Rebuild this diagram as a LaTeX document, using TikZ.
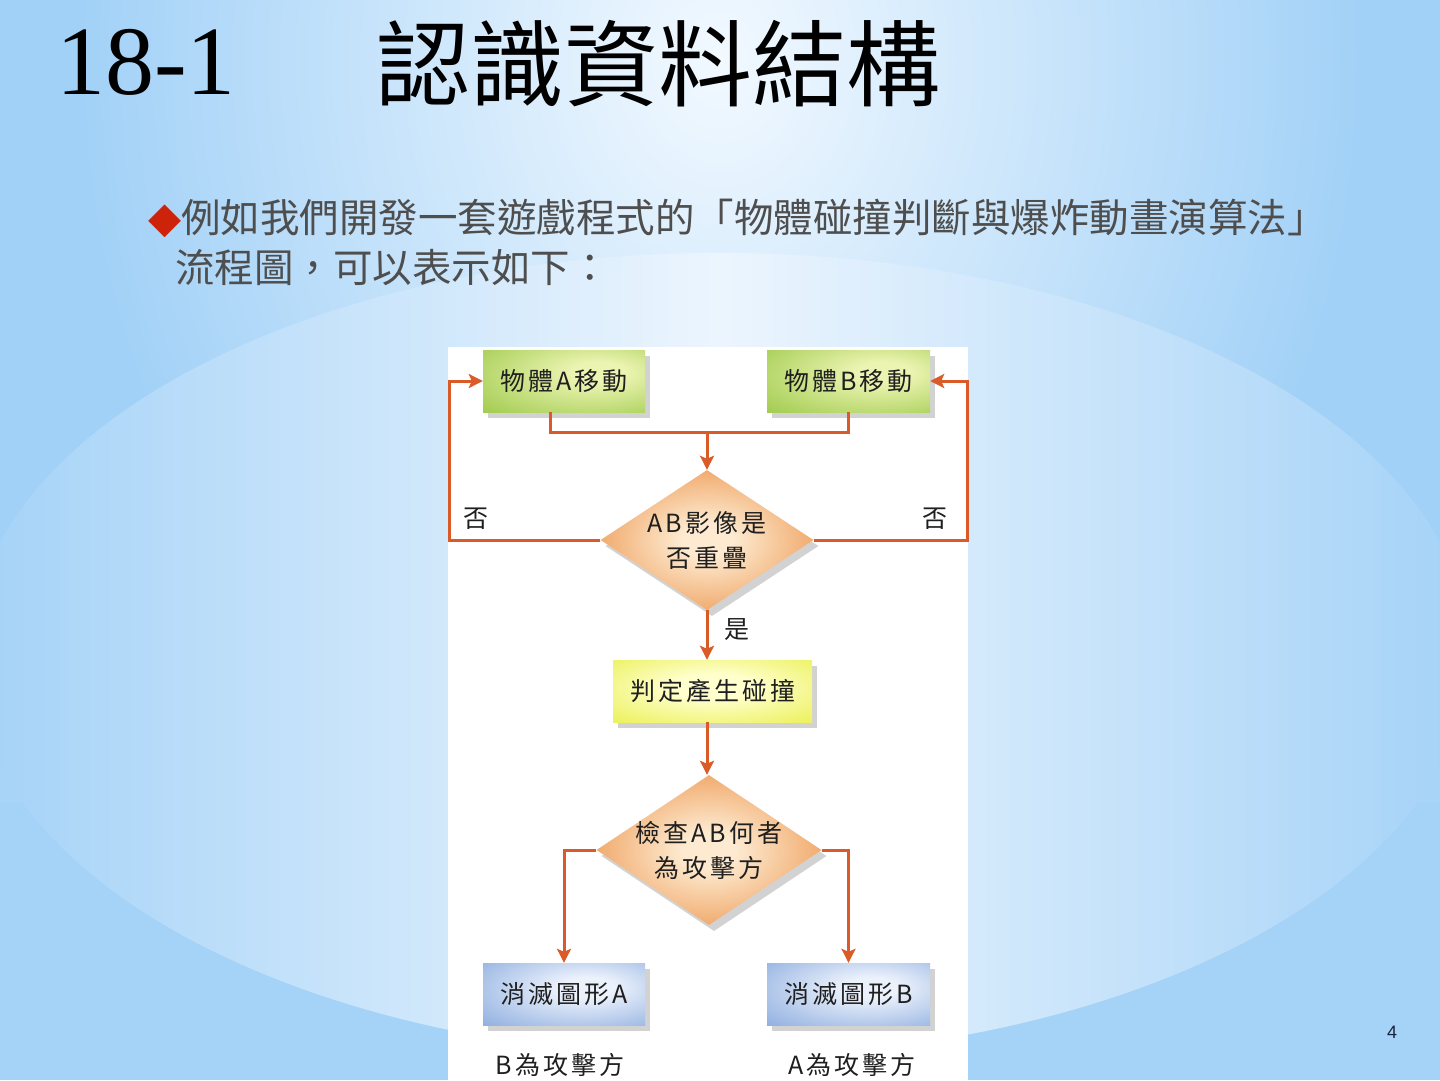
\documentclass[tikz,border=0pt]{standalone}
\usepackage{fontspec}
\usetikzlibrary{shapes.geometric,shadows,arrows.meta}
\newfontfamily\cjk{Noto Sans CJK TC}
\newfontfamily\cjkls{Noto Sans CJK TC}[LetterSpace=12]
\newfontfamily\numserif{Liberation Serif}
\newfontfamily\symfont{DejaVu Sans}
\newfontfamily\pagefont{Liberation Sans}

\definecolor{bgblue}{RGB}{162,209,247}
\definecolor{bglight}{RGB}{242,249,255}
\definecolor{ellside}{RGB}{164,210,247}
\definecolor{ellmid}{RGB}{236,245,254}
\definecolor{connc}{RGB}{218,90,40}
\definecolor{gdark}{RGB}{140,192,52}
\definecolor{glight}{RGB}{236,244,178}
\definecolor{ydark}{RGB}{226,234,36}
\definecolor{ylight}{RGB}{255,255,205}
\definecolor{bdark}{RGB}{112,152,214}
\definecolor{blight}{RGB}{236,242,252}
\definecolor{odark}{RGB}{234,136,56}
\definecolor{olight}{RGB}{253,234,208}
\definecolor{bodygray}{RGB}{78,78,78}
\definecolor{pagec}{RGB}{25,35,60}

\pgfdeclareradialshading{glowgreen}{\pgfpoint{12bp}{8bp}}{color(0bp)=(glight); color(8bp)=(glight); color(52bp)=(gdark); color(80bp)=(gdark)}
\pgfdeclareradialshading{glowyellow}{\pgfpoint{0bp}{4bp}}{color(0bp)=(ylight); color(10bp)=(ylight); color(50bp)=(ydark); color(80bp)=(ydark)}
\pgfdeclareradialshading{glowblue}{\pgfpoint{8bp}{6bp}}{color(0bp)=(blight); color(8bp)=(blight); color(52bp)=(bdark); color(80bp)=(bdark)}
\pgfdeclareradialshading{gloworange}{\pgfpoint{0bp}{0bp}}{color(0bp)=(olight); color(6bp)=(olight); color(36bp)=(odark); color(80bp)=(odark)}

\begin{document}
\begin{tikzpicture}[x=1pt,y=-1pt,
  flowtxt/.style={font=\cjkls\fontsize{25}{35}\selectfont, text=black!88},
  shad/.style={drop shadow={shadow xshift=5pt, shadow yshift=-6pt, opacity=0.25, fill=black!70}},
  procbox/.style={rectangle, minimum width=162pt, minimum height=62pt, inner sep=0pt, shad, flowtxt},
  greenbox/.style={procbox, shade, shading=glowgreen},
  yellowbox/.style={procbox, minimum width=199pt, shade, shading=glowyellow},
  bluebox/.style={procbox, shade, shading=glowblue},
  decision/.style={diamond, inner sep=0pt, shad, shade, shading=gloworange},
  conn/.style={draw=connc, line width=3pt},
  arrowc/.style={conn, -{Stealth[length=14pt,width=14pt,inset=3pt]}},
  lbl/.style={flowtxt, inner sep=0pt}
]
\useasboundingbox (0,0) rectangle (1440,1080);

% ---------- background ----------
\fill[bgblue] (0,0) rectangle (1440,1080);
\shade[inner color=bglight, outer color=bgblue] (720,60) ellipse [x radius=640, y radius=780];
\fill[white, opacity=0.07] (0,594) rectangle (1440,803);
\fill[white, opacity=0.04] (0,803) rectangle (1440,1080);
\shade[left color=ellside, right color=ellside, middle color=ellmid] (720,655) ellipse [x radius=750, y radius=402];

% ---------- title and body text ----------
\node[anchor=base west, inner sep=0pt, font=\numserif\fontsize{98}{98}\selectfont] (num) at (56,94) {18-1};
\node[anchor=west, inner sep=0pt, font=\cjk\fontsize{94}{94}\selectfont] (ttl) at (376,64) {認識資料結構};
\node[anchor=west, inner sep=0pt, font=\cjk\fontsize{39.5}{40}\selectfont, text=bodygray] (l1) at (148,218)
  {{\symfont\fontsize{43}{43}\selectfont\color[RGB]{205,35,10}◆}例如我們開發一套遊戲程式的「物體碰撞判斷與爆炸動畫演算法」};
\node[anchor=west, inner sep=0pt, font=\cjk\fontsize{39.5}{40}\selectfont, text=bodygray] (l2) at (175,268)
  {流程圖，可以表示如下：};
\node[inner sep=0pt, font=\pagefont\fontsize{18}{18}\selectfont, text=pagec] (pg) at (1392,1032) {4};

% ---------- flowchart panel ----------
\fill[white] (448,347) rectangle (968,1080);

\node[greenbox] (A) at (564,381) {物體A移動};
\node[greenbox, minimum width=163pt] (B) at (848.5,381) {物體B移動};

\node[decision, minimum width=213pt, minimum height=140pt] (d1) at (707,540) {};
\node[lbl, align=center] (d1t) at (d1.center) {AB影像是\\否重疊};

\node[yellowbox] (Y) at (712.5,691) {判定產生碰撞};

\node[decision, minimum width=225pt, minimum height=150pt] (d2) at (709,850) {};
\node[lbl, align=center] (d2t) at (d2.center) {檢查AB何者\\為攻擊方};

\node[bluebox] (C) at (564,994) {消滅圖形A};
\node[bluebox, minimum width=163pt] (D) at (848.5,994) {消滅圖形B};

% labels
\node[lbl] (noL) at (476,519) {否};
\node[lbl] (noR) at (935,519) {否};
\node[lbl] (yes) at (737,630) {是};
\node[lbl] (labC) at (560,1065) {B為攻擊方};
\node[lbl] (labD) at (852,1065) {A為攻擊方};

% ---------- connectors ----------
\coordinate (j) at (707,432);
\coordinate (lc) at (449,540);
\coordinate (rc) at (967,540);
\draw[conn] ([xshift=-14pt]A.south) |- (j) -| (B.south);
\draw[arrowc] (j) -- (d1.north);
\draw[arrowc] (d1.west) -- (lc) |- (A.west);
\draw[arrowc] (d1.east) -- (rc) |- (B.east);
\draw[arrowc] (d1.south) -- (d1.south |- Y.north);
\draw[arrowc] (Y.south -| j) -- (d2.north -| j);
\draw[arrowc] (d2.west) -| (C.north);
\draw[arrowc] (d2.east) -| (D.north);
\end{tikzpicture}
\end{document}
